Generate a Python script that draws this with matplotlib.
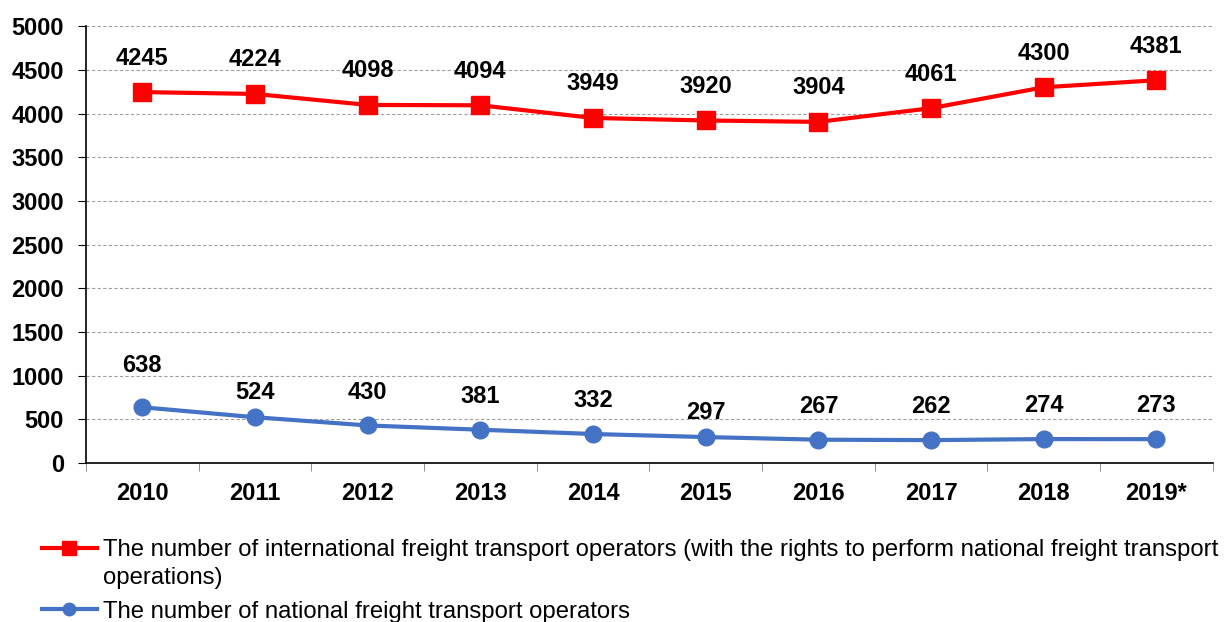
import numpy as np
import matplotlib
matplotlib.use("Agg")
import matplotlib.pyplot as plt
from matplotlib.legend_handler import HandlerLine2D

plt.rcParams['font.family'] = ['Liberation Sans', 'DejaVu Sans']

years = ["2010", "2011", "2012", "2013", "2014", "2015", "2016", "2017", "2018", "2019*"]
international = [4245, 4224, 4098, 4094, 3949, 3920, 3904, 4061, 4300, 4381]
national = [638, 524, 430, 381, 332, 297, 267, 262, 274, 273]

intl_label = ("The number of international freight transport operators (with the rights to perform national freight transport\n"
              "operations)")
nat_label = "The number of national freight transport operators"

# label offsets in points (above the markers)
red_off = [24.5] * 10
blue_off = [30, 18, 24, 24, 24, 18, 24, 24, 24, 24]


# legend handle aligned with the first text line (like Excel)
class TopHandler(HandlerLine2D):
    def create_artists(self, legend, orig_handle, xdescent, ydescent,
                       width, height, fontsize, trans):
        arts = super().create_artists(legend, orig_handle, xdescent, ydescent,
                                      width, height, fontsize, trans)
        for a in arts:
            a.set_ydata(np.asarray(a.get_ydata()) + 0.68 * fontsize)
        return arts


fig = plt.figure(figsize=(12.25, 6.22), dpi=100)
ax = fig.add_axes([0.0702, 0.2556, 0.9198, 0.7024])

x = np.arange(len(years))
l1, = ax.plot(x, international, color="#ff0000", lw=3, marker="s", ms=13, label=intl_label)
l2, = ax.plot(x, national, color="#4472c4", lw=3, marker="o", ms=12, label=nat_label)

for xi, v, o in zip(x, international, red_off):
    ax.annotate(str(v), (xi, v), xytext=(0, o), textcoords="offset points",
                ha="center", va="center", fontsize=17, fontweight="bold")
for xi, v, o in zip(x, national, blue_off):
    ax.annotate(str(v), (xi, v), xytext=(0, o), textcoords="offset points",
                ha="center", va="center", fontsize=17, fontweight="bold")

ax.set_xlim(-0.5, len(years) - 0.5)
ax.set_ylim(0, 5000)
ax.set_yticks(np.arange(0, 5001, 500))
ax.set_xticks(x)
ax.set_xticklabels(years)
ax.set_xticks(np.arange(-0.5, len(years)), minor=True)
ax.tick_params(axis="x", which="major", length=0, pad=14)
ax.tick_params(axis="x", which="minor", length=6, color="#808080")
ax.tick_params(axis="y", length=6, pad=10)
for lab in ax.get_xticklabels() + ax.get_yticklabels():
    lab.set_fontsize(17)
    lab.set_fontweight("bold")

ax.grid(axis="y", ls=(0, (3, 2)), color="#a0a0a0", lw=0.8)
ax.set_axisbelow(True)
for s in ["top", "right"]:
    ax.spines[s].set_visible(False)
ax.spines["left"].set_linewidth(1.2)
ax.spines["bottom"].set_linewidth(1.2)

leg = fig.legend(handles=[l1, l2], loc="upper left", bbox_to_anchor=(0.034, 0.134),
                 frameon=False, fontsize=17.2, handlelength=2.3, handletextpad=0.25,
                 labelspacing=0.5, borderpad=0, borderaxespad=0, markerscale=0.75,
                 handler_map={l1: TopHandler()})
for t in leg.get_texts():
    t.set_linespacing(1.35)

fig.savefig("out.png", dpi=100)
